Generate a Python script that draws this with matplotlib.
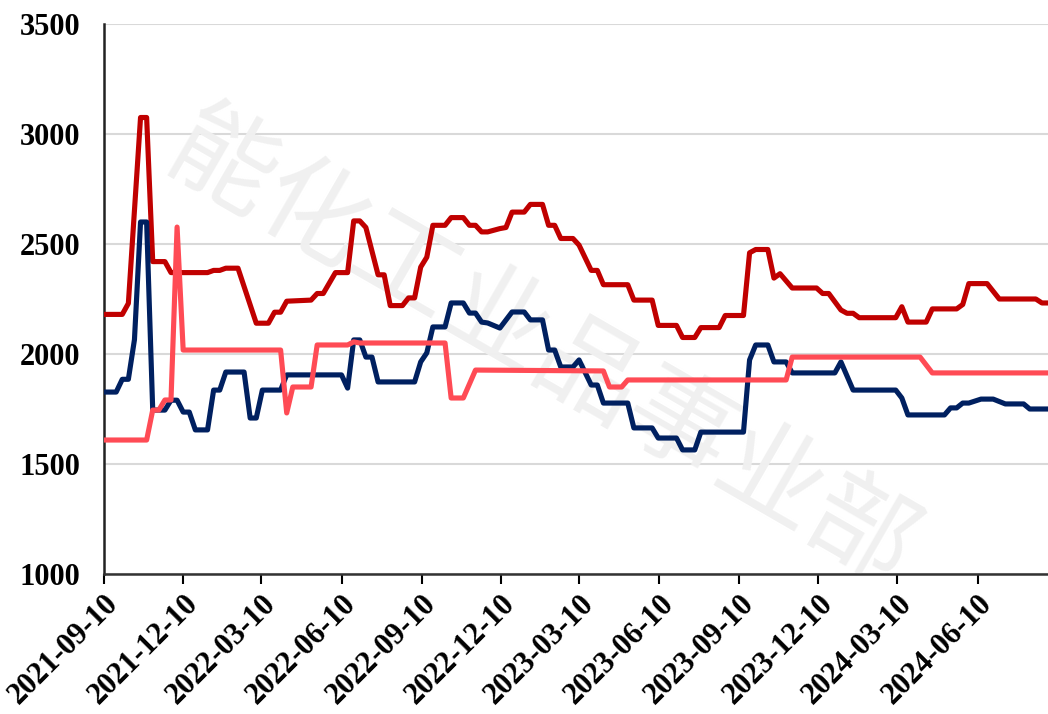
import numpy as np
import matplotlib
matplotlib.use('Agg')
import matplotlib.pyplot as plt
import matplotlib.dates as mdates
import pandas as pd

start = pd.Timestamp('2021-09-10')

# weeks since start / values
red_wk = [0, 3, 4, 6, 7, 8, 10, 11, 17, 18, 19, 20, 22, 25, 27, 28, 29, 30, 34, 35, 36, 38, 40,
          41, 42, 43, 45, 46, 47, 49, 50, 51, 52, 53, 54, 56, 57, 59, 60, 61, 62, 63, 65, 66, 67,
          69, 70, 72, 73, 74, 75, 77, 78, 80, 81, 82, 86, 87, 90, 91, 94, 95, 97, 98, 101, 102,
          105, 106, 107, 109, 110, 111, 113, 117, 118, 119, 121, 122, 123, 124, 130, 131, 132,
          135, 136, 140, 141, 142, 145, 147, 153, 154, 155]
red_val = [2180, 2180, 2230, 3075, 3075, 2420, 2420, 2370, 2370, 2380, 2380, 2390, 2390, 2140,
           2140, 2190, 2190, 2240, 2245, 2275, 2275, 2370, 2370, 2605, 2605, 2575, 2360, 2360,
           2220, 2220, 2255, 2255, 2395, 2440, 2585, 2585, 2620, 2620, 2585, 2585, 2555, 2555,
           2570, 2575, 2645, 2645, 2680, 2680, 2585, 2585, 2525, 2525, 2495, 2380, 2380, 2315,
           2315, 2245, 2245, 2130, 2130, 2075, 2075, 2120, 2120, 2175, 2175, 2460, 2475, 2475,
           2345, 2365, 2300, 2300, 2275, 2275, 2200, 2185, 2185, 2165, 2165, 2215, 2145, 2145,
           2205, 2205, 2225, 2320, 2320, 2250, 2250, 2232, 2232]

navy_wk = [0, 2, 3, 4, 5, 6, 7, 8, 10, 11, 12, 13, 14, 15, 17, 18, 19, 20, 23, 24, 25, 26, 29,
           30, 39, 40, 41, 42, 43, 44, 45, 51, 52, 53, 54, 56, 57, 59, 60, 61, 62, 63, 65, 67,
           69, 70, 72, 73, 74, 75, 77, 78, 80, 81, 82, 86, 87, 90, 91, 94, 95, 97, 98, 105, 106,
           107, 109, 110, 112, 113, 120, 121, 123, 130, 131, 132, 138, 139, 140, 141, 142, 144,
           146, 148, 151, 152, 155]
navy_val = [1827, 1827, 1885, 1885, 2065, 2600, 2600, 1745, 1745, 1790, 1790, 1736, 1736, 1655,
            1655, 1836, 1836, 1918, 1918, 1709, 1709, 1836, 1836, 1905, 1905, 1845, 2064, 2064,
            1986, 1986, 1873, 1873, 1964, 2005, 2123, 2123, 2232, 2232, 2186, 2186, 2145, 2141,
            2118, 2191, 2191, 2155, 2155, 2018, 2018, 1941, 1941, 1973, 1859, 1859, 1777, 1777,
            1664, 1664, 1618, 1618, 1564, 1564, 1645, 1645, 1973, 2041, 2041, 1964, 1964, 1914,
            1914, 1964, 1836, 1836, 1800, 1723, 1723, 1755, 1755, 1777, 1777, 1795, 1795, 1773,
            1773, 1750, 1750]

pink_wk = [0, 7, 8, 9, 10, 11, 12, 13, 29, 30, 31, 34, 35, 40, 41, 42, 56, 57, 59, 61, 82, 83,
           85, 86, 112, 113, 134, 136, 155]
pink_val = [1609, 1609, 1745, 1745, 1791, 1791, 2577, 2018, 2018, 1732, 1850, 1850, 2041, 2041,
            2055, 2050, 2050, 1800, 1800, 1927, 1923, 1850, 1850, 1882, 1882, 1986, 1986, 1914,
            1914]

def to_dates(wk):
    return start + pd.to_timedelta(np.array(wk) * 7, unit='D')

plt.rcParams['font.family'] = ['Liberation Serif']
plt.rcParams['font.weight'] = 'bold'

fig = plt.figure(figsize=(10.48, 7.14), dpi=100)
ax = fig.add_axes([104 / 1048, 140 / 714, 944 / 1048, 550 / 714])

# watermark
ax.text(0.464, 0.405, '能化工业品事业部', transform=ax.transAxes, rotation=-30,
        fontsize=76, color='#f0f0f0', family=['Noto Sans CJK SC'], fontweight='normal',
        ha='center', va='center', zorder=1)

ax.plot(to_dates(red_wk), red_val, color='#C00000', lw=3.7, zorder=3)
ax.plot(to_dates(navy_wk), navy_val, color='#002060', lw=3.7, zorder=4)
ax.plot(to_dates(pink_wk), pink_val, color='#FF4B55', lw=3.7, zorder=5)

ax.set_ylim(1000, 3500)
ax.set_yticks([1000, 1500, 2000, 2500, 3000, 3500])
ax.set_xlim(start, to_dates([155])[0])
ax.xaxis.set_major_locator(mdates.MonthLocator(bymonth=[3, 6, 9, 12], bymonthday=10))
ax.xaxis.set_major_formatter(mdates.DateFormatter('%Y-%m-%d'))

ax.grid(axis='y', color='#d9d9d9', lw=1.5, zorder=0)
ax.set_axisbelow(True)
for s in ['top', 'right']:
    ax.spines[s].set_visible(False)
ax.spines['left'].set_linewidth(1.8)
ax.spines['left'].set_color('#222222')
ax.spines['bottom'].set_linewidth(1.8)
ax.spines['bottom'].set_color('#333333')

ax.tick_params(axis='y', length=0, pad=17, labelsize=22)
ax.tick_params(axis='x', length=7, width=1.5, direction='out', pad=4, labelsize=22)
for lab in ax.get_xticklabels():
    lab.set_rotation(45)
    lab.set_ha('right')
    lab.set_rotation_mode('anchor')

fig.savefig('out.png', dpi=100)
